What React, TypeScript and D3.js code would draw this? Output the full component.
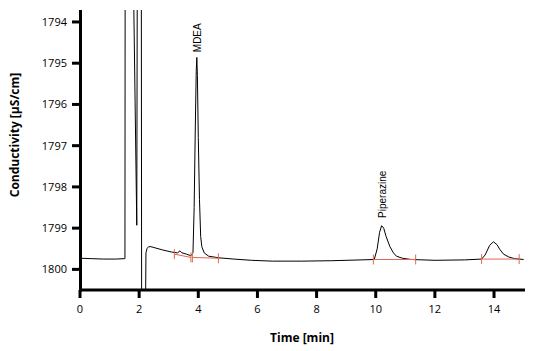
import React from "react";
import * as d3 from "d3";

const timeMin = [0, 0.4, 0.8, 1.2, 1.5, 1.52, 1.53, 1.75, 1.92, 1.945, 2.07, 2.085, 2.21, 2.23, 2.27, 2.32, 2.4, 2.5, 2.8, 3.1, 3.3, 3.38, 3.45, 3.6, 3.75, 3.82, 3.86, 3.9, 3.93, 3.95, 3.97, 4.0, 4.04, 4.08, 4.12, 4.2, 4.35, 4.7, 5.2, 5.8, 6.5, 7.5, 8.5, 9.5, 9.95, 10.05, 10.13, 10.2, 10.27, 10.35, 10.48, 10.6, 10.7, 10.9, 11.2, 12.0, 13.0, 13.58, 13.7, 13.85, 13.98, 14.1, 14.2, 14.32, 14.5, 14.7, 15.0];
const conductivity = [1799.73, 1799.74, 1799.75, 1799.75, 1799.74, 1799.74, 1790, 1790, 1798.93, 1790, 1790, 1801.5, 1801.5, 1799.6, 1799.49, 1799.45, 1799.45, 1799.47, 1799.53, 1799.58, 1799.6, 1799.55, 1799.6, 1799.63, 1799.67, 1799.6, 1798.5, 1796.5, 1795.2, 1794.86, 1795.3, 1796.8, 1798.3, 1799.2, 1799.45, 1799.6, 1799.68, 1799.72, 1799.75, 1799.78, 1799.8, 1799.8, 1799.79, 1799.77, 1799.76, 1799.5, 1799.1, 1798.94, 1799.0, 1799.2, 1799.45, 1799.6, 1799.68, 1799.73, 1799.76, 1799.78, 1799.77, 1799.75, 1799.65, 1799.42, 1799.33, 1799.4, 1799.52, 1799.63, 1799.7, 1799.74, 1799.76];

const baseStartT = [3.19, 3.8, 9.92, 13.58];
const baseStartV = [1799.63, 1799.71, 1799.76, 1799.75];
const baseEndT = [3.75, 4.68, 11.35, 14.85];
const baseEndV = [1799.71, 1799.73, 1799.76, 1799.75];

const peakNames = ["MDEA", "Piperazine"];
const peakTimes = [3.95, 10.2];
const peakLabelV = [1794.83, 1798.85];

const xTicks = [0, 2, 4, 6, 8, 10, 12, 14];
const yTicks = [1794, 1795, 1796, 1797, 1798, 1799, 1800];

export default function App() {
  const W = 533, H = 351;
  const left = 80, right = 523.6, top = 10, bottom = 290;
  const x = d3.scaleLinear().domain([0, 15]).range([left, right]);
  const y = d3.scaleLinear().domain([1793.71, 1800.5]).range([top, bottom]);
  const pts: [number, number][] = timeMin.map((t, i) => [t, conductivity[i]]);
  const line = d3.line<[number, number]>().x(d => x(d[0])).y(d => y(d[1]));
  const font = "'Open Sans', 'Noto Sans', sans-serif";
  const red = "#e0684f";
  return (
    <svg width={W} height={H} style={{ position: "absolute", left: 0, top: 0, background: "#fff" }}>
      <defs>
        <clipPath id="plot">
          <rect x={left} y={top} width={525 - left} height={bottom - top} />
        </clipPath>
      </defs>
      <g clipPath="url(#plot)">
        <path d={line(pts) ?? ""} fill="none" stroke="#000" strokeWidth={1} />
      </g>
      {baseStartT.map((t, i) => (
        <g key={"b" + i} stroke={red} strokeWidth={1}>
          <line x1={x(t)} y1={y(baseStartV[i])} x2={x(baseEndT[i])} y2={y(baseEndV[i])} />
          <line x1={x(t)} y1={y(baseStartV[i]) - 5} x2={x(t)} y2={y(baseStartV[i]) + 5} />
          <line x1={x(baseEndT[i])} y1={y(baseEndV[i]) - 5} x2={x(baseEndT[i])} y2={y(baseEndV[i]) + 5} />
        </g>
      ))}
      {peakNames.map((n, i) => (
        <text key={n} transform={`translate(${x(peakTimes[i]) + 4},${y(peakLabelV[i]) - 4}) rotate(-90)`}
          fontFamily="'Liberation Sans', Arial, sans-serif" fontSize={10} fill="#000">{n}</text>
      ))}
      {/* axes */}
      <line x1={left + 0.5} y1={top} x2={left + 0.5} y2={bottom + 1.5} stroke="#000" strokeWidth={3} />
      <line x1={left - 1} y1={bottom} x2={525} y2={bottom} stroke="#000" strokeWidth={3} />
      {yTicks.map(v => (
        <g key={v}>
          <line x1={left - 8} x2={left} y1={y(v)} y2={y(v)} stroke="#000" strokeWidth={3} />
          <text x={left - 13} y={y(v)} dy="0.35em" textAnchor="end" fontFamily={font} fontSize={11} fill="#000">{v}</text>
        </g>
      ))}
      {xTicks.map(v => (
        <g key={v}>
          <line x1={x(v)} x2={x(v)} y1={bottom} y2={bottom + 8} stroke="#000" strokeWidth={3} />
          <text x={x(v)} y={313} textAnchor="middle" fontFamily={font} fontSize={11} fill="#000">{v}</text>
        </g>
      ))}
      <text x={302} y={342} textAnchor="middle" fontFamily={font} fontSize={12} fontWeight="bold" fill="#000">Time [min]</text>
      <text transform={`translate(19,135) rotate(-90)`} textAnchor="middle" fontFamily={font} fontSize={12} fontWeight="bold" fill="#000">Conductivity [µS/cm]</text>
    </svg>
  );
}
